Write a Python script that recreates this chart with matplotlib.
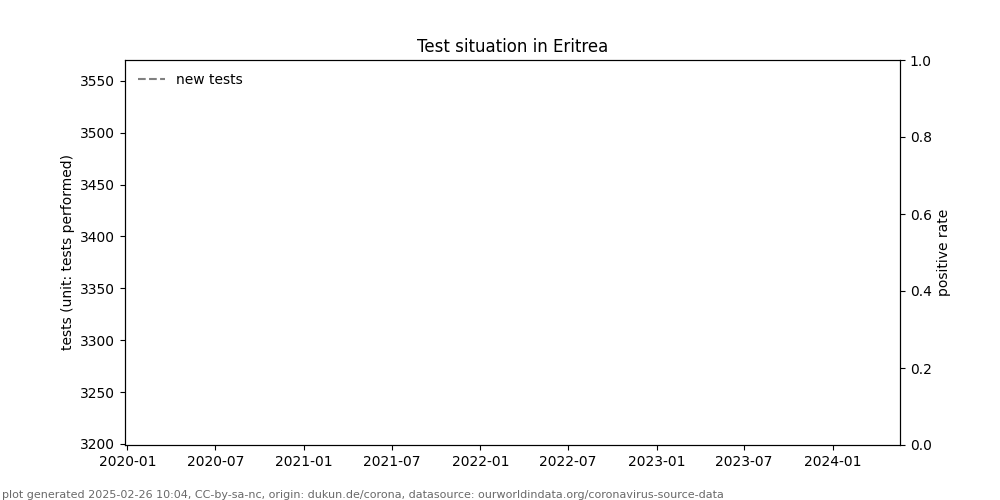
import numpy as np
import pandas as pd
import matplotlib
matplotlib.use('Agg')
import matplotlib.pyplot as plt
import matplotlib.dates as mdates

# data: only isolated reports, so the dashed line shows no segments
dates = pd.to_datetime(['2020-03-09', '2021-06-15', '2021-06-16', '2023-02-01', '2023-02-02', '2024-03-07'])
new_tests = [np.nan, 3216, np.nan, np.nan, 3553, np.nan]
positive_rate = [np.nan] * len(dates)

x_limits = pd.to_datetime(['2019-12-27', '2024-05-19'])
y_limits = (3199, 3570)

fig, ax = plt.subplots(figsize=(10, 5), dpi=100)
ax.plot(dates, new_tests, linestyle='--', color='grey', label='new tests')
ax.set_xlim(x_limits[0], x_limits[1])
ax.set_ylim(*y_limits)
ax.xaxis.set_major_locator(mdates.MonthLocator(bymonth=[1, 7]))
ax.xaxis.set_major_formatter(mdates.DateFormatter('%Y-%m'))
ax.set_ylabel('tests (unit: tests performed)')
ax.set_title('Test situation in Eritrea')
ax.legend(loc='upper left', frameon=False)

ax2 = ax.twinx()
ax2.set_ylim(0, 1)
ax2.set_ylabel('positive rate')

fig.text(0.002, 0.004, 'plot generated 2025-02-26 10:04, CC-by-sa-nc, origin: dukun.de/corona, '
         'datasource: ourworldindata.org/coronavirus-source-data', fontsize=8, color='dimgrey')

fig.savefig('out.png', dpi=100)
